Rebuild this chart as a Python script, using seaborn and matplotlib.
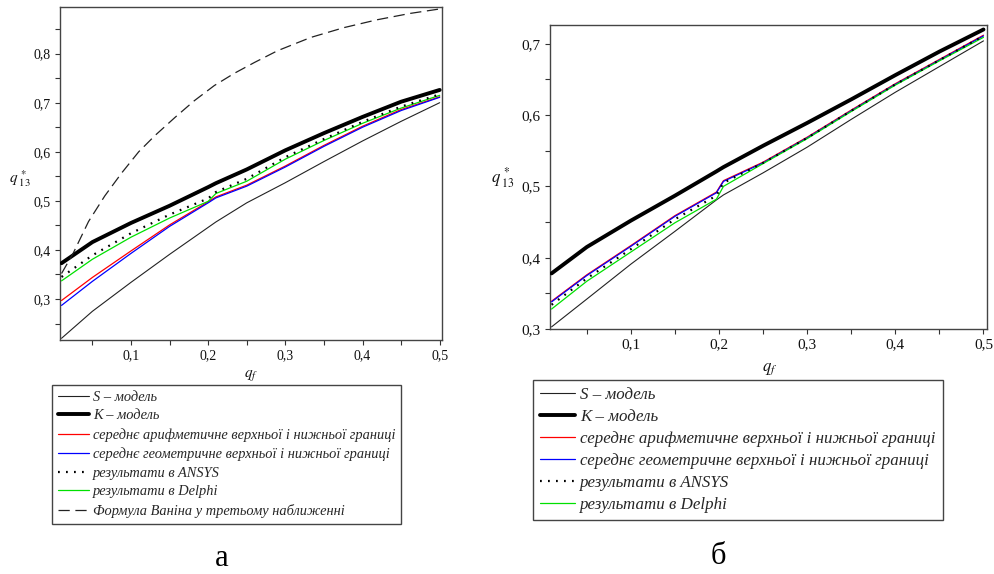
import numpy as np
import pandas as pd
import matplotlib
matplotlib.use("Agg")
import matplotlib.pyplot as plt
import seaborn as sns
from matplotlib.ticker import MultipleLocator, FuncFormatter

# ---------------- data: left panel (а) ----------------
x_left = [0.01, 0.05, 0.10, 0.15, 0.20, 0.21, 0.25, 0.30, 0.35, 0.40, 0.45, 0.50]
s_left = [0.220, 0.275, 0.334, 0.391, 0.446, 0.457, 0.496, 0.537, 0.580, 0.622, 0.662, 0.700]
k_left = [0.373, 0.416, 0.455, 0.490, 0.528, 0.536, 0.564, 0.603, 0.638, 0.671, 0.702, 0.726]
arith_left = [0.297, 0.344, 0.398, 0.451, 0.498, 0.508, 0.532, 0.571, 0.613, 0.652, 0.686, 0.712]
geom_left = [0.287, 0.336, 0.393, 0.448, 0.496, 0.506, 0.530, 0.569, 0.611, 0.650, 0.684, 0.711]
ansys_left = [0.345, 0.389, 0.434, 0.472, 0.505, 0.518, 0.545, 0.589, 0.626, 0.661, 0.692, 0.717]
delphi_left = [0.337, 0.381, 0.426, 0.465, 0.499, 0.515, 0.540, 0.585, 0.623, 0.658, 0.689, 0.715]
x_vanin = [0.01, 0.025, 0.045, 0.066, 0.088, 0.11, 0.131, 0.157, 0.182, 0.208, 0.234, 0.26,
           0.29, 0.333, 0.376, 0.419, 0.462, 0.50]
vanin = [0.352, 0.393, 0.458, 0.510, 0.557, 0.600, 0.633, 0.670, 0.704, 0.735, 0.760, 0.782,
         0.806, 0.833, 0.853, 0.869, 0.882, 0.891]

# ---------------- data: right panel (б) ----------------
x_right = [0.01, 0.05, 0.10, 0.15, 0.197, 0.205, 0.25, 0.30, 0.35, 0.40, 0.45, 0.50]
s_right = [0.303, 0.342, 0.391, 0.437, 0.481, 0.488, 0.519, 0.555, 0.594, 0.632, 0.668, 0.704]
k_right = [0.378, 0.415, 0.452, 0.487, 0.521, 0.527, 0.557, 0.589, 0.622, 0.656, 0.689, 0.720]
arith_right = [0.339, 0.376, 0.417, 0.459, 0.492, 0.508, 0.534, 0.569, 0.607, 0.644, 0.678, 0.712]
geom_right = [0.338, 0.375, 0.416, 0.458, 0.491, 0.507, 0.533, 0.568, 0.606, 0.643, 0.677, 0.711]
ansys_right = [0.334, 0.371, 0.412, 0.454, 0.487, 0.505, 0.533, 0.568, 0.606, 0.643, 0.677, 0.711]
delphi_right = [0.328, 0.367, 0.408, 0.449, 0.482, 0.500, 0.532, 0.567, 0.605, 0.642, 0.676, 0.709]

labels = ["S – модель", "K – модель",
          "середнє арифметичне верхньої і нижньої границі",
          "середнє геометричне верхньої і нижньої границі",
          "результати в ANSYS", "результати в Delphi",
          "Формула Ваніна у третьому наближенні"]

sns.set_theme(style="white")
plt.rcParams["font.family"] = ["Liberation Serif", "DejaVu Serif"]
plt.rcParams["mathtext.fontset"] = "stix"

fig = plt.figure(figsize=(9.94, 5.74), dpi=100)
W, H = 994, 574
axL = fig.add_axes([60 / W, 1 - 340 / H, 382 / W, 333 / H])
axR = fig.add_axes([550 / W, 1 - 329 / H, 437 / W, 304 / H])

styles = {
    "S": dict(color="#222222", lw=0.8),
    "K": dict(color="black", lw=2.8),
    "A": dict(color="#ff0000", lw=0.9),
    "G": dict(color="#0000ff", lw=0.9),
    "N": dict(color="black", lw=1.6, dashes=(0.8, 2.8)),
    "D": dict(color="#00e000", lw=0.9),
    "V": dict(color="#222222", lw=0.9, dashes=(9, 4.5)),
}


def draw(ax, x, series, keys):
    for key, y, lab in zip(keys, series, labels):
        st = dict(styles[key])
        dashes = st.pop("dashes", None)
        line_x = x if key != "V" else x_vanin
        sns.lineplot(x=line_x, y=y, ax=ax, label=lab, estimator=None, sort=False,
                     zorder=4 if key == "N" else 3, **st)
        if dashes is not None:
            ax.get_lines()[-1].set_dashes(dashes)


draw(axL, x_left, [s_left, k_left, arith_left, geom_left, ansys_left, delphi_left, vanin],
     ["S", "K", "A", "G", "N", "D", "V"])
draw(axR, x_right, [s_right, k_right, arith_right, geom_right, ansys_right, delphi_right],
     ["S", "K", "A", "G", "N", "D"])

comma = FuncFormatter(lambda v, p: ("%.1f" % v).replace(".", ","))

for ax, xl, yl, fs in [(axL, (0.008, 0.503), (0.2165, 0.895), 10),
                       (axR, (0.0082, 0.504), (0.300, 0.7263), 11)]:
    ax.set_xlim(*xl)
    ax.set_ylim(*yl)
    ax.xaxis.set_major_locator(MultipleLocator(0.1))
    ax.xaxis.set_minor_locator(MultipleLocator(0.05))
    ax.yaxis.set_major_locator(MultipleLocator(0.1))
    ax.yaxis.set_minor_locator(MultipleLocator(0.05))
    ax.xaxis.set_major_formatter(comma)
    ax.yaxis.set_major_formatter(comma)
    ax.tick_params(which="both", direction="out", length=3.5, width=0.8, color="#333333",
                   bottom=True, left=True, top=False, right=False)
    ax.tick_params(which="major", labelsize=fs, pad=3, labelcolor="#111111")
    for sp in ax.spines.values():
        sp.set_visible(True)
        sp.set_color("#444444")
        sp.set_linewidth(1.0)
    ax.grid(False)
    ax.set_xlabel(r"$q_f$", fontsize=fs + 1, color="#111111")
    ax.set_ylabel(r"$q^{\,*}_{\;13}$", fontsize=fs + 1, rotation=0, color="#111111",
                  va="center", ha="center")

axL.xaxis.set_label_coords(0.50, -0.085)
axL.yaxis.set_label_coords(-0.105, 0.486)
axR.xaxis.set_label_coords(0.503, -0.105)
axR.yaxis.set_label_coords(-0.1075, 0.497)

leg_kw = dict(loc="upper left", bbox_transform=fig.transFigure, borderaxespad=0,
              fancybox=False, frameon=True, handletextpad=0.3)
legL = axL.legend(bbox_to_anchor=(52 / W, 1 - 385 / H), handlelength=2.15, labelspacing=0.38,
                  borderpad=0.4, prop=dict(family="Liberation Serif", style="italic", size=10.4),
                  **leg_kw)
legR = axR.legend(bbox_to_anchor=(533 / W, 1 - 380 / H), handlelength=2.1, labelspacing=0.36,
                  borderpad=0.4, prop=dict(family="Liberation Serif", style="italic", size=12.2),
                  **leg_kw)
for lg in (legL, legR):
    fr = lg.get_frame()
    fr.set_edgecolor("#444444")
    fr.set_linewidth(1.0)
    fr.set_facecolor("white")
    fr.set_alpha(1)

fig.text(222 / W, 1 - 559 / H, "а", ha="center", va="center", fontsize=22, color="black")
fig.text(718 / W, 1 - 557 / H, "б", ha="center", va="center", fontsize=22, color="black")

fig.savefig("out.png", dpi=100)
